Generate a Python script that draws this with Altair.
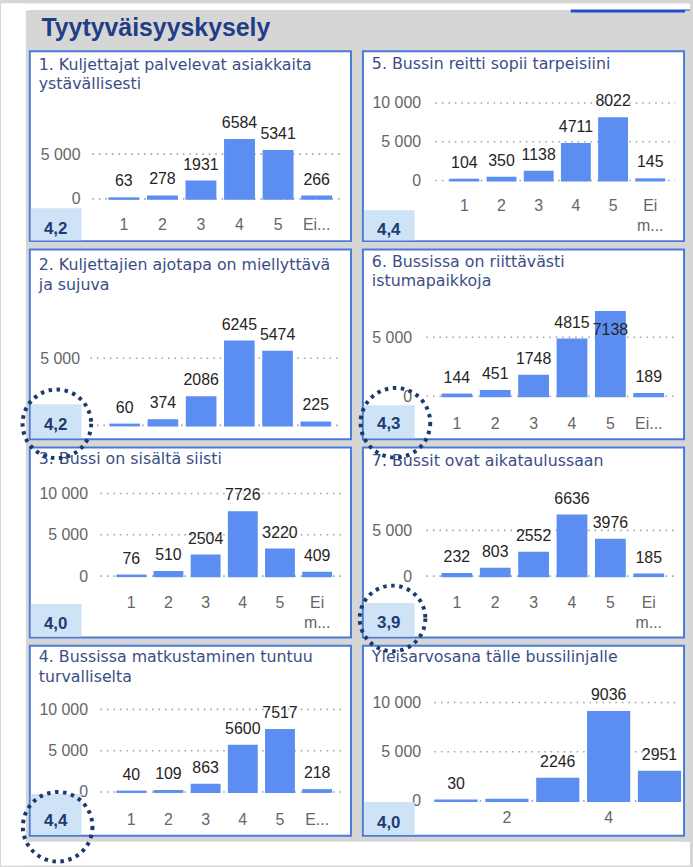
import altair as alt
import pandas as pd

# ---------------- data ----------------
main_title = "Tyytyväisyyskysely"

title_1 = ["1. Kuljettajat palvelevat asiakkaita", "ystävällisesti"]
title_2 = ["2. Kuljettajien ajotapa on miellyttävä", "ja sujuva"]
title_3 = ["3. Bussi on sisältä siisti"]
title_4 = ["4. Bussissa matkustaminen tuntuu", "turvalliselta"]
title_5 = ["5. Bussin reitti sopii tarpeisiini"]
title_6 = ["6. Bussissa on riittävästi", "istumapaikkoja"]
title_7 = ["7. Bussit ovat aikataulussaan"]
title_8 = ["Yleisarvosana tälle bussilinjalle"]

cats_1 = ["1", "2", "3", "4", "5", "Ei..."]
cats_2 = ["1", "2", "3", "4", "5", "Ei..."]
cats_3 = ["1", "2", "3", "4", "5", "Ei m..."]
cats_4 = ["1", "2", "3", "4", "5", "E..."]
cats_5 = ["1", "2", "3", "4", "5", "Ei m..."]
cats_6 = ["1", "2", "3", "4", "5", "Ei..."]
cats_7 = ["1", "2", "3", "4", "5", "Ei m..."]
cats_8 = ["1", "2", "3", "4", "5"]

values_1 = [63, 278, 1931, 6584, 5341, 266]
values_2 = [60, 374, 2086, 6245, 5474, 225]
values_3 = [76, 510, 2504, 7726, 3220, 409]
values_4 = [40, 109, 863, 5600, 7517, 218]
values_5 = [104, 350, 1138, 4711, 8022, 145]
values_6 = [144, 451, 1748, 4815, 7138, 189]
values_7 = [232, 803, 2552, 6636, 3976, 185]
values_8 = [30, 110, 2246, 9036, 2951]
hidden_labels_8 = ["2"]

scores = [4.2, 4.2, 4.0, 4.4, 4.4, 4.3, 3.9, 4.0]

yticks_1 = [0, 5000]
yticks_2 = [0, 5000]
yticks_3 = [0, 5000, 10000]
yticks_4 = [0, 5000, 10000]
yticks_5 = [0, 5000, 10000]
yticks_6 = [0, 5000]
yticks_7 = [0, 5000]
yticks_8 = [0, 5000, 10000]
xticks_8 = ["2", "4"]

# ---------------- style ----------------
W, H = 323, 191
FONT_NUM = "Liberation Sans"
FONT_TITLE = "DejaVu Sans"
BG = "#d6d6d6"
BAR = "#5c8ef2"
BORDER = "#4a7bd8"
TITLE_C = "#3b4e85"
MAIN_C = "#1f3e86"
AXIS_C = "#666666"
LABEL_C = "#252423"
GRID_C = "#a0a0a0"
BOX_C = "#cfe3f6"
SCORE_C = "#1f3b73"
CIRCLE_C = "#1b3a6b"
TITLE_LH = 19.5
PAGE_BOTTOM = 867

one = pd.DataFrame({"z": [0]})


def circle_layer(cx, cy, r):
    d = 2 * r
    return alt.Chart(one).mark_point(
        shape="circle", filled=False, size=d * d, color=CIRCLE_C, opacity=1,
        strokeWidth=4, strokeDash=[3.5, 4.6]
    ).encode(x=alt.value(cx), y=alt.value(cy))


def panel(title_lines, cats, vals, score, yticks, g, circle=None, hidden=(), xvals=None,
          extra=()):
    n = len(cats)
    pi = g.get("pi", 0.25)
    L, R = g["bars"]
    step = (R - L) / (n - pi)
    a = L - pi / 2 * step
    b = a + n * step
    zero, per = g["zero"], g["per"]
    yscale = alt.Scale(domain=[0, 10000], range=[zero, zero - 2 * per], nice=False)
    xscale = alt.Scale(domain=cats, range=[a, b], paddingInner=pi, paddingOuter=pi / 2)

    if g.get("xlab") is None:
        xaxis = None
    else:
        kw = dict(orient="bottom", offset=g["xlab"] - 7 - H, labelPadding=0, ticks=False,
                  tickSize=0, domain=False, grid=False, title=None, labelAngle=0,
                  labelFont=FONT_NUM, labelFontSize=16, labelColor=AXIS_C,
                  labelBaseline="top", labelLineHeight=20,
                  labelExpr="split(datum.label, ' ')")
        if xvals is not None:
            kw["values"] = xvals
        xaxis = alt.Axis(**kw)
    yaxis = alt.Axis(orient="left", offset=-g["yr"], values=yticks, labelPadding=0,
                     ticks=False, tickSize=0, domain=False, grid=False, title=None,
                     labelFont=FONT_NUM, labelFontSize=16, labelColor=AXIS_C,
                     labelExpr="replace(format(datum.value, ','), ',', ' ')")

    X = alt.X("cat:N", scale=xscale, axis=xaxis)
    Y = alt.Y("v:Q", scale=yscale, axis=yaxis)

    df = pd.DataFrame({"cat": cats, "v": vals})
    title_bottom = g["tb"] + TITLE_LH * (len(title_lines) - 1) + 5
    df["lab"] = [("" if c in hidden else str(v)) for c, v in zip(cats, vals)]
    df["inside"] = [(zero - v * per / 5000 - 17) < title_bottom + 12 for v in vals]

    grid = alt.Chart(pd.DataFrame({"v": yticks})).mark_rule(
        color=GRID_C, strokeDash=[1.5, 5], strokeWidth=1.6
    ).encode(y=Y, x=alt.value(g["gs"]), x2=alt.value(314))

    bars = alt.Chart(df).mark_bar(color=BAR, stroke=BAR, strokeWidth=2).encode(x=X, y=Y)
    out = alt.Chart(df).transform_filter("!datum.inside").mark_text(
        dy=-17, font=FONT_NUM, fontSize=16, color=LABEL_C
    ).encode(x=X, y=Y, text="lab:N")
    inn = alt.Chart(df).transform_filter("datum.inside").mark_text(
        dy=18, font=FONT_NUM, fontSize=16, color=LABEL_C
    ).encode(x=X, y=Y, text="lab:N")

    title = alt.Chart(pd.DataFrame({"t": ["\n".join(title_lines)]})).mark_text(
        align="left", baseline="alphabetic", lineBreak="\n", lineHeight=TITLE_LH,
        font=FONT_TITLE, fontSize=15.9, color=TITLE_C
    ).encode(x=alt.value(9), y=alt.value(g["tb"]), text="t:N")

    sdf = pd.DataFrame({"s": [score]})
    box = alt.Chart(sdf).mark_rect(color=BOX_C).encode(
        x=alt.value(1), x2=alt.value(52), y=alt.value(g["box"]), y2=alt.value(H - 1))
    stext = alt.Chart(sdf).transform_calculate(
        lab="replace(format(datum.s, '.1f'), '.', ',')"
    ).mark_text(font=FONT_NUM, fontSize=17, fontWeight="bold", color=SCORE_C).encode(
        x=alt.value(26), y=alt.value(g["st"]), text="lab:N")

    layers = list(extra) + [grid, bars, out, inn, title, box, stext]
    if circle is not None:
        layers.append(circle_layer(*circle))
    return alt.layer(*layers).properties(
        width=W, height=H,
        view=alt.ViewBackground(fill="white", stroke=BORDER, strokeWidth=2))


# page decoration drawn from the first panel (origin of panel 1 = 29, 48 on the page)
OX, OY = 29, 48
white_left = alt.Chart(one).mark_rect(color="white").encode(
    x=alt.value(-OX), x2=alt.value(25 - OX), y=alt.value(-OY), y2=alt.value(PAGE_BOTTOM - OY))
white_top = alt.Chart(one).mark_rect(color="white").encode(
    x=alt.value(-OX), x2=alt.value(693 - OX), y=alt.value(-OY), y2=alt.value(7 - OY))
white_bottom = alt.Chart(one).mark_rect(color="white").encode(
    x=alt.value(-OX), x2=alt.value(693 - OX), y=alt.value(843 - OY),
    y2=alt.value(PAGE_BOTTOM - OY))
thin_line = alt.Chart(one).mark_rule(color="#bccbe8", strokeWidth=1).encode(
    x=alt.value(29 - OX), x2=alt.value(573 - OX), y=alt.value(7.5 - OY))
blue_line = alt.Chart(one).mark_rule(color="#1f4fc6", strokeWidth=3).encode(
    x=alt.value(573 - OX), x2=alt.value(693 - OX), y=alt.value(7.6 - OY))
title_text = alt.Chart(pd.DataFrame({"t": [main_title]})).mark_text(
    align="left", baseline="alphabetic", font=FONT_NUM, fontSize=25, fontWeight="bold",
    color=MAIN_C
).encode(x=alt.value(40.7 - OX), y=alt.value(33 - OY), text="t:N")
decor = [white_left, white_top, white_bottom, thin_line, blue_line, title_text]

# grey margin to the right of the right-hand column (origin of panel 5 = 364, 48)
RX = 364
grey_right = alt.Chart(one).mark_rect(color=BG).encode(
    x=alt.value(688 - RX), x2=alt.value(693 - RX), y=alt.value(7 - OY), y2=alt.value(843 - OY))

g1 = dict(tb=18.7, zero=148.5, per=45, yr=50.5, gs=63, bars=(80, 303), xlab=173.5, box=158, st=179)
g5 = dict(tb=17.7, zero=130, per=39, yr=58, gs=73, bars=(88, 303), xlab=154, box=160, st=180)
g2 = dict(tb=21, zero=177, per=67.6, yr=50, gs=61, bars=(81, 302), xlab=None, box=155.7, st=176.7)
g6 = dict(tb=17.7, zero=147.7, per=59.3, yr=49, gs=64, bars=(80, 302), xlab=174.4, box=156.7, st=175.7)
g3 = dict(tb=16.6, zero=129.3, per=41.6, yr=58, gs=71, bars=(88, 303), xlab=155.3, box=157.3, st=177.3)
g7 = dict(tb=18.3, zero=129.3, per=46, yr=49, gs=64, bars=(80, 302), xlab=155.3, box=156.3, st=176.3)
g4 = dict(tb=16.7, zero=147, per=41.5, yr=58, gs=71, bars=(88, 303), xlab=174, box=149, st=176)
g8 = dict(tb=16.7, zero=156, per=49.5, yr=58, gs=72, bars=(73, 319), pi=0.19, xlab=172, box=157, st=178)

p1 = panel(title_1, cats_1, values_1, scores[0], yticks_1, g1, extra=decor)
p2 = panel(title_2, cats_2, values_2, scores[1], yticks_2, g2)
p3 = panel(title_3, cats_3, values_3, scores[2], yticks_3, g3, circle=(27.2, -23.9, 34.5))
p4 = panel(title_4, cats_4, values_4, scores[3], yticks_4, g4, circle=(28, 182, 35))
p5 = panel(title_5, cats_5, values_5, scores[4], yticks_5, g5, extra=[grey_right])
p6 = panel(title_6, cats_6, values_6, scores[5], yticks_6, g6)
p7 = panel(title_7, cats_7, values_7, scores[6], yticks_7, g7, circle=(32.7, -25, 35))
p8 = panel(title_8, cats_8, values_8, scores[7], yticks_8, g8, circle=(29.8, -27.5, 33),
           hidden=hidden_labels_8, xvals=xticks_8)

chart = alt.concat(
    p1, p5, p2, p6, p3, p7, p4, p8,
    columns=2, spacing={"row": 8.33, "column": 12}, bounds="flush"
).properties(padding=0, background=BG).configure_view(strokeWidth=0)

chart.save("out.html", embed_options={"renderer": "svg", "actions": False})
